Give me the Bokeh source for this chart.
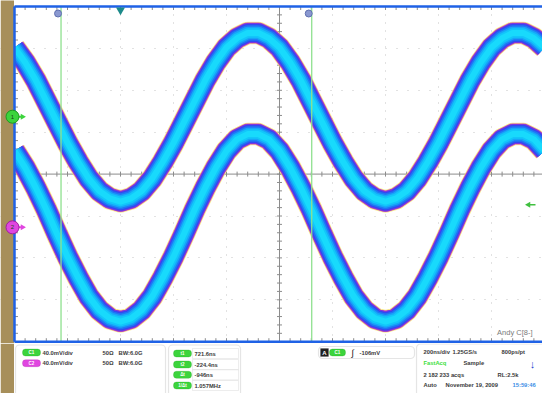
import numpy as np
from bokeh.plotting import figure
from bokeh.models import Range1d, FixedTicker, Label, BoxAnnotation, Grid
from bokeh.layouts import column
from bokeh.embed import file_html
from bokeh.resources import INLINE
from bokeh.core.properties import value

# ---------------- values ----------------
t_ns = [-400, -360, -320, -280, -240, -200, -160, -120, -80, -40,
        0, 40, 80, 120, 160, 200, 240, 280, 320, 360,
        400, 440, 480, 520, 560, 600, 640, 680, 720, 760,
        800, 840, 880, 920, 960, 1000, 1040, 1080, 1120, 1160,
        1200, 1240, 1280, 1320, 1360, 1400, 1440, 1480, 1520, 1560, 1600]
c1_mv = [66, 52, 35, 15, -5, -25, -43, -59, -71, -78,
         -81, -78, -71, -59, -43, -25, -5, 15, 35, 52,
         66, 75, 80, 80, 75, 66, 52, 35, 15, -5,
         -25, -43, -59, -71, -78, -81, -78, -71, -59, -43,
         -25, -5, 15, 35, 52, 66, 75, 80, 80, 75, 66]
c2_mv = [73, 57, 38, 17, -6, -28, -48, -66, -79, -87,
         -90, -87, -79, -66, -48, -28, -6, 17, 38, 57,
         73, 84, 89, 89, 84, 73, 57, 38, 17, -6,
         -28, -48, -66, -79, -87, -90, -87, -79, -66, -48,
         -28, -6, 17, 38, 57, 73, 84, 89, 89, 84, 73]
channel_names = ["C1", "C2"]
channel_marks = ["1", "2"]
channel_pos_div = [1.37, -1.27]
mv_per_div = 40.0
ns_per_div = 200.0
cursor_ns = [-224.4, 721.6]
trigger_ns = 0.0
trigger_level_div = -0.73

readout_scale = ["40.0mV/div", "40.0mV/div"]
readout_term = ["50Ω", "50Ω"]
readout_bw = ["BW:6.0G", "BW:6.0G"]
cursor_tags = ["t1", "t2", "Δt", "1/Δt"]
cursor_values = ["721.6ns", "-224.4ns", "-946ns", "1.057MHz"]
trigger_source = "C1"
trigger_text = "-106mV"
horiz_row = ["200ns/div", "1.25GS/s", "800ps/pt"]
acq_row = ["FastAcq", "Sample"]
count_row = ["2 182 233 acqs", "RL:2.5k"]
date_row = ["Auto", "November 19, 2009", "15:59:46"]
signature = "Andy C[8-]"

# ---------------- styling ----------------
BROWN = "#A78F5A"
BLUE = "#1F62E6"
GRIDC = "#C4C4C4"
AXISC = "#8C8C8C"
CURSORC = "#8EE08E"
CH_COLORS = ["#3CD43C", "#E046E0"]
CH_EDGE = ["#1E9A1E", "#A020A0"]
TXT = "#3A3A3A"
FONT = "Liberation Sans"

W, H_TOP, H_BOT = 542, 343, 50
PX_NS = 53.0 / ns_per_div
PX_DIV = 41.9
left_ns = trigger_ns - 2 * ns_per_div
X0 = left_ns - 14 / PX_NS
X1 = X0 + W / PX_NS
Y_TOP = 4 + 6 / PX_DIV
Y_BOT = Y_TOP - H_TOP / PX_DIV
center_ns = left_ns + 5 * ns_per_div

p = figure(width=W, height=H_TOP, x_range=Range1d(X0, X1),
           y_range=Range1d(Y_BOT, Y_TOP),
           output_backend="svg", toolbar_location=None,
           x_axis_location=None, y_axis_location=None,
           min_border=0, min_border_left=0, min_border_right=0,
           min_border_top=0, min_border_bottom=0)
p.outline_line_color = None
p.background_fill_color = "white"
p.border_fill_color = "white"
p.grid.visible = False

major_t = [left_ns + k * ns_per_div for k in range(1, 10) if k != 5]
gx = Grid(dimension=0, ticker=FixedTicker(ticks=major_t),
          grid_line_color=GRIDC, grid_line_dash="1 7", grid_line_width=1)
gy = Grid(dimension=1, ticker=FixedTicker(ticks=[-3, -2, -1, 1, 2, 3]),
          grid_line_color=GRIDC, grid_line_dash="1 10", grid_line_width=1)
p.add_layout(gx)
p.add_layout(gy)

minor_t = np.arange(left_ns, X1, ns_per_div / 5)
minor_v = np.arange(-4, 4.0001, 0.2)
tdy = 3.5 / PX_DIV
tdx = 3.5 / PX_NS
cdy = 2.5 / PX_DIV
cdx = 2.5 / PX_NS
# edge ticks
p.segment(x0=minor_t, y0=4, x1=minor_t, y1=4 - tdy, line_color=AXISC, line_width=1)
p.segment(x0=minor_t, y0=-4, x1=minor_t, y1=-4 + tdy, line_color=AXISC, line_width=1)
p.segment(x0=left_ns, y0=minor_v, x1=left_ns + tdx, y1=minor_v, line_color=AXISC, line_width=1)
# center cross
p.segment(x0=left_ns, y0=0, x1=X1, y1=0, line_color=AXISC, line_width=1)
p.segment(x0=center_ns, y0=-4, x1=center_ns, y1=4, line_color=AXISC, line_width=1)
p.segment(x0=minor_t, y0=-cdy, x1=minor_t, y1=cdy, line_color=AXISC, line_width=1)
p.segment(x0=center_ns - cdx, y0=minor_v, x1=center_ns + cdx, y1=minor_v,
          line_color=AXISC, line_width=1)

# waveforms (fast-acq persistence bands)
band_layers = [(22.5, "#F6E46A", 0.75), (21, "#C848B0", 0.9), (20, "#8036DC", 1.0),
               (18, "#3448F0", 1.0), (15.5, "#1F74F6", 1.0), (12.5, "#17A4F8", 1.0),
               (9.5, "#12C6FA", 1.0), (6, "#18DAFC", 1.0)]
for mv, pos in zip([c1_mv, c2_mv], channel_pos_div):
    ys = [pos + v / mv_per_div for v in mv]
    for w, col, a in band_layers:
        p.line(t_ns, ys, line_width=w, line_color=col, line_alpha=a,
               line_join="round", line_cap="butt")

# brown side strip (covers the trace where it leaves the graticule)
p.quad(left=X0, right=left_ns - 0.5 / PX_NS, bottom=-6, top=6,
       fill_color=BROWN, line_color=None)

# cursors
for c in cursor_ns:
    p.segment(x0=c, y0=-4, x1=c, y1=4, line_color=CURSORC, line_width=1.3)
p.scatter(x=[c - 3 / PX_NS for c in cursor_ns], y=[4 - 7 / PX_DIV] * 2,
          marker="circle", size=7, fill_color="#8A98D0", line_color="#6070B0")

# border
p.segment(x0=left_ns, y0=4, x1=X1, y1=4, line_color=BLUE, line_width=2.5)
p.segment(x0=left_ns, y0=-4, x1=X1, y1=-4, line_color=BLUE, line_width=2.5)
p.segment(x0=left_ns, y0=-4, x1=left_ns, y1=4, line_color=BLUE, line_width=2.5)

# trigger position marker
p.scatter(x=[trigger_ns], y=[4 - 3.5 / PX_DIV], marker="inverted_triangle", size=9,
          fill_color="#1C8A8A", line_color=None)
# trigger level marker
p.segment(x0=X1 - 14 / PX_NS, y0=trigger_level_div, x1=X1 - 7 / PX_NS,
          y1=trigger_level_div, line_color="#40C040", line_width=1.5)
p.scatter(x=[X1 - 14 / PX_NS], y=[trigger_level_div], marker="triangle", angle=np.pi / 2,
          size=6, fill_color="#40C040", line_color=None)

# channel markers
for pos, col, edge, mk in zip(channel_pos_div, CH_COLORS, CH_EDGE, channel_marks):
    p.segment(x0=left_ns, y0=pos, x1=left_ns + 8 / PX_NS, y1=pos, line_color=col, line_width=2)
    p.scatter(x=[left_ns + 8 / PX_NS], y=[pos], marker="triangle", angle=-np.pi / 2,
              size=6, fill_color=col, line_color=None)
    p.scatter(x=[left_ns - 2 / PX_NS], y=[pos], marker="circle", size=13,
              fill_color=col, line_color=edge, line_width=1)
    p.text(x=[left_ns - 2 / PX_NS], y=[pos], text=[mk], text_font=value(FONT),
           text_font_size=value("6px"), text_color="#1A4A1A", text_align="center",
           text_baseline="middle")

p.add_layout(Label(x=X1, y=-4, x_offset=-10, y_offset=5, text=signature,
                   text_font=FONT, text_font_size="7.5px", text_color="#7A7A7A",
                   text_align="right", text_baseline="bottom"))

# ---------------- readout panel ----------------
b = figure(width=W, height=H_BOT, x_range=Range1d(0, W), y_range=Range1d(H_BOT, 0),
           output_backend="svg", toolbar_location=None,
           x_axis_location=None, y_axis_location=None,
           min_border=0, min_border_left=0, min_border_right=0,
           min_border_top=0, min_border_bottom=0)
b.grid.visible = False
b.outline_line_color = None
b.background_fill_color = "white"
b.border_fill_color = "white"
b.quad(left=0, right=13.5, top=0, bottom=H_BOT, fill_color=BROWN, line_color=None)


def box(l, r, t, bt, fill="white", line="#A9A9A9", radius=4, lw=1.2):
    b.add_layout(BoxAnnotation(left=l, right=r, top=t, bottom=bt, fill_color=fill,
                               fill_alpha=1, line_color=line, line_width=lw,
                               border_radius=int(radius), level="annotation"))


def txt(xs, ys, texts, color=TXT, size="5.8px", align="left", style="bold"):
    r = b.text(x=xs, y=ys, text=texts, text_color=color, text_font=value(FONT),
               text_font_size=value(size), text_font_style=style, text_align=align,
               text_baseline="middle")
    r.level = "overlay"


R1 = [9.0, 19.7]
R2 = [10.0, 21.0, 31.3, 42.0]
R4 = [8.0, 19.7, 31.3, 41.3]

# channel box
box(15, 165, 1.5, 70)
for y, col, edge, name in zip(R1, CH_COLORS, CH_EDGE, channel_names):
    box(22, 40, y - 3.5, y + 3.5, fill=col, line=edge, radius=3, lw=0.8)
    txt([31], [y], [name], color="white", size="4.5px", align="center")
txt([42, 42], R1, readout_scale)
txt([102, 102], R1, readout_term)
txt([118, 118], R1, readout_bw)

# cursor box
box(168, 240, 1.5, 70)
for y, tag, val in zip(R2, cursor_tags, cursor_values):
    box(173, 191, y - 3.5, y + 3.5, fill=CH_COLORS[0], line=CH_EDGE[0], radius=3, lw=0.8)
    box(192, 238, y - 5.0, y + 5.0, fill="white", line="#B4B4B4", radius=0, lw=0.8)
    txt([182], [y], [tag], color="white", size="4.5px", align="center")
    txt([194], [y], [val])

# trigger box
box(318, 414, 3, 15)
box(320, 328, 5, 13, fill="#202020", line="#202020", radius=0, lw=0.5)
txt([324], [9], ["A"], color="white", size="6px", align="center")
box(329, 345, 5.5, 12.5, fill=CH_COLORS[0], line=CH_EDGE[0], radius=3, lw=0.8)
txt([337], [9], [trigger_source], color="white", size="4.5px", align="center")
txt([352], [9], ["∫"], color="#202020", size="9px", align="center", style="normal")
txt([359], [9], [trigger_text])

# acquisition box
box(416, 550, 0.5, 70)
txt([423, 452, 501], [R4[0]] * 3, horiz_row)
txt([423], [R4[1]], [acq_row[0]], color="#3CE03C")
txt([463], [R4[1]], [acq_row[1]])
txt([532], [R4[1] + 0.5], ["↓"], color="#2040D0", size="11px", align="center")
txt([423, 497], [R4[2]] * 2, count_row)
txt([423, 445], [R4[3]] * 2, date_row[:2])
txt([512], [R4[3]], [date_row[2]], color="#3A8EE6")

layout = column(p, b, spacing=0)
open("out.html", "w").write(file_html(layout, INLINE))
